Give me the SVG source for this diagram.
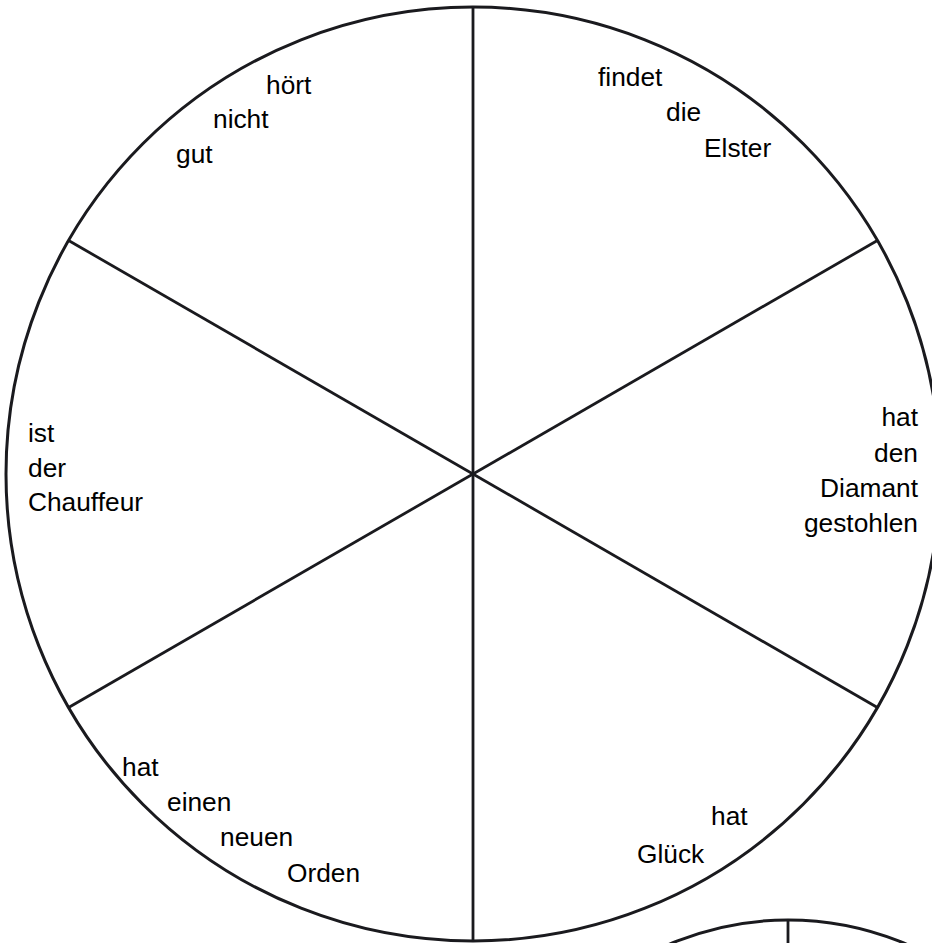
<svg xmlns="http://www.w3.org/2000/svg" width="932" height="943" viewBox="0 0 932 943">
<style>
.c{fill:none;stroke:#1a1a1e;stroke-width:3}
.s{stroke:#1a1a1e;stroke-width:2.8;fill:none}
text{font-family:"Liberation Sans",Arial,sans-serif;font-size:26.3px;fill:#000}
.r{text-anchor:end}
</style>
<rect width="932" height="943" fill="#fff"/>
<g id="wheel">
<circle class="c" cx="473" cy="474" r="467"/>
</g>
<g id="connectors">
<line class="s" x1="473" y1="7" x2="473" y2="941"/>
<line class="s" x1="68.6" y1="240.5" x2="877.4" y2="707.5"/>
<line class="s" x1="68.6" y1="707.5" x2="877.4" y2="240.5"/>
</g>
<g id="wheel2">
<circle class="c" cx="788" cy="1222" r="302" stroke-width="2.5"/>
<line class="s" x1="788" y1="920" x2="788" y2="943"/>
</g>
<g id="seg-top-left">
<text x="266" y="94">hört</text>
<text x="213" y="128">nicht</text>
<text x="176" y="163">gut</text>
</g>
<g id="seg-top-right">
<text x="598" y="86">findet</text>
<text x="666" y="121">die</text>
<text x="704" y="157">Elster</text>
</g>
<g id="seg-right">
<text class="r" x="918" y="426">hat</text>
<text class="r" x="918" y="462">den</text>
<text class="r" x="918" y="497">Diamant</text>
<text class="r" x="918" y="532">gestohlen</text>
</g>
<g id="seg-left">
<text x="28" y="442">ist</text>
<text x="28" y="477">der</text>
<text x="28" y="511">Chauffeur</text>
</g>
<g id="seg-bottom-left">
<text x="122" y="776">hat</text>
<text x="167" y="811">einen</text>
<text x="220" y="846">neuen</text>
<text x="287" y="882">Orden</text>
</g>
<g id="seg-bottom-right">
<text x="711" y="825">hat</text>
<text x="637" y="863">Glück</text>
</g>
</svg>
